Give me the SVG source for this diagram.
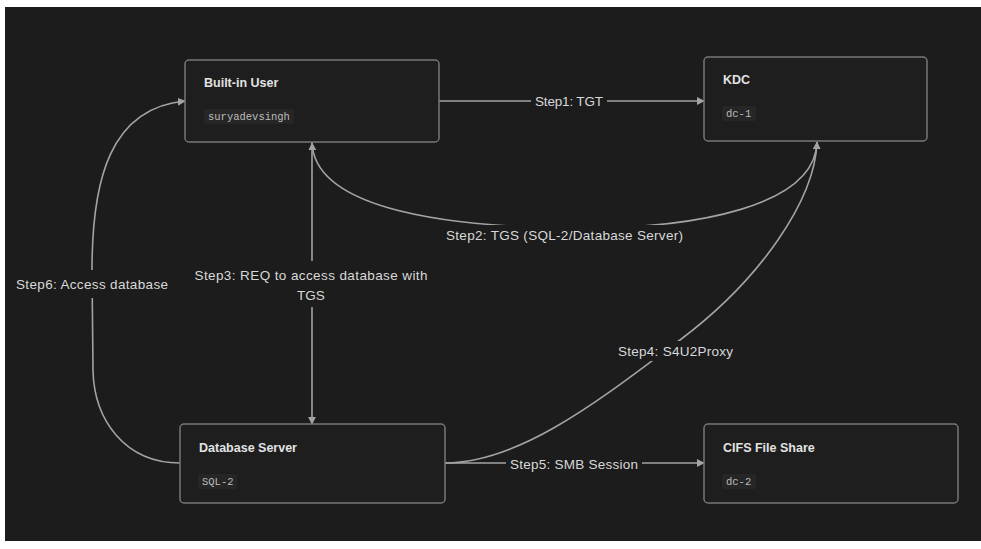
<svg xmlns="http://www.w3.org/2000/svg" width="981" height="549" viewBox="0 0 981 549">
  <style>
    .node rect.box { fill: #1e1e1e; stroke: #777777; stroke-width: 1.5; }
    .node rect.chip { fill: #262626; }
    .title { font-family: "Liberation Sans", Arial, sans-serif; font-size: 12.5px; font-weight: bold; fill: #e2e2e2; }
    .mono { font-family: "Liberation Mono", "DejaVu Sans Mono", monospace; font-size: 10.5px; fill: #bdbdbd; }
    .edge { fill: none; stroke: #a3a3a3; stroke-width: 1.6; }
    .lbl-bg { fill: #1c1c1c; }
    .lbl { font-family: "Liberation Sans", Arial, sans-serif; font-size: 13.5px; fill: #d8d8d8; text-anchor: middle; }
  </style>
  <defs>
    <marker id="arrow" viewBox="0 0 10 10" refX="9" refY="5" markerWidth="8" markerHeight="8" markerUnits="userSpaceOnUse" orient="auto">
      <path d="M0,0 L10,5 L0,10 Z" fill="#a3a3a3"/>
    </marker>
  </defs>

  <!-- page frame -->
  <rect x="0" y="0" width="981" height="549" fill="#ffffff"/>
  <rect x="5" y="7" width="976" height="534" fill="#1c1c1c"/>

  <!-- connectors -->
  <g id="edges">
    <!-- Step1 -->
    <path class="edge" d="M439,101 L704,101" marker-end="url(#arrow)"/>
    <!-- Step2 -->
    <path class="edge" d="M817,142 C815,205 700,230 565,228 C430,226 315,205 312,143" marker-end="url(#arrow)"/>
    <!-- Step3 -->
    <path class="edge" d="M312,142 L312,424" marker-end="url(#arrow)"/>
    <!-- Step4 -->
    <path class="edge" d="M445,463 C520,463 600,400 680,340 C760,280 815,200 817,142" marker-end="url(#arrow)"/>
    <!-- Step5 -->
    <path class="edge" d="M445,463 L704,463" marker-end="url(#arrow)"/>
    <!-- Step6 -->
    <path class="edge" d="M180,463 C125,463 94,420 93,370 L92,270 C92,180 110,108 185,101" marker-end="url(#arrow)"/>

    <!-- edge labels -->
    <rect class="lbl-bg" x="531" y="91" width="76" height="20"/>
    <text class="lbl" x="569" y="106" textLength="68">Step1: TGT</text>

    <rect class="lbl-bg" x="442" y="225" width="245" height="20"/>
    <text class="lbl" x="564.5" y="240" textLength="237">Step2: TGS (SQL-2/Database Server)</text>

    <rect class="lbl-bg" x="190" y="261" width="243" height="46"/>
    <text class="lbl" x="311" y="280" textLength="233">Step3: REQ to access database with</text>
    <text class="lbl" x="311" y="300">TGS</text>

    <rect class="lbl-bg" x="614" y="341" width="123" height="20"/>
    <text class="lbl" x="675.5" y="356" textLength="115">Step4: S4U2Proxy</text>

    <rect class="lbl-bg" x="506" y="454" width="136" height="20"/>
    <text class="lbl" x="574" y="469" textLength="128">Step5: SMB Session</text>

    <rect class="lbl-bg" x="12" y="270" width="160" height="28"/>
    <text class="lbl" x="92" y="289" textLength="152">Step6: Access database</text>
  </g>

  <!-- nodes -->
  <g id="builtin-user" class="node">
    <rect class="box" x="185" y="60" width="254" height="82" rx="4"/>
    <text class="title" x="204" y="87">Built-in User</text>
    <rect class="chip" x="204" y="109" width="90" height="15" rx="2"/>
    <text class="mono" x="208" y="120">suryadevsingh</text>
  </g>

  <g id="kdc" class="node">
    <rect class="box" x="704" y="57" width="223" height="84" rx="4"/>
    <text class="title" x="723" y="84">KDC</text>
    <rect class="chip" x="722" y="106" width="34" height="15" rx="2"/>
    <text class="mono" x="726" y="117">dc-1</text>
  </g>

  <g id="database-server" class="node">
    <rect class="box" x="180" y="424" width="265" height="79" rx="4"/>
    <text class="title" x="199" y="452">Database Server</text>
    <rect class="chip" x="198" y="474" width="39" height="15" rx="2"/>
    <text class="mono" x="202" y="485">SQL-2</text>
  </g>

  <g id="cifs-file-share" class="node">
    <rect class="box" x="704" y="424" width="254" height="79" rx="4"/>
    <text class="title" x="723" y="452">CIFS File Share</text>
    <rect class="chip" x="722" y="474" width="34" height="15" rx="2"/>
    <text class="mono" x="726" y="485">dc-2</text>
  </g>
</svg>
